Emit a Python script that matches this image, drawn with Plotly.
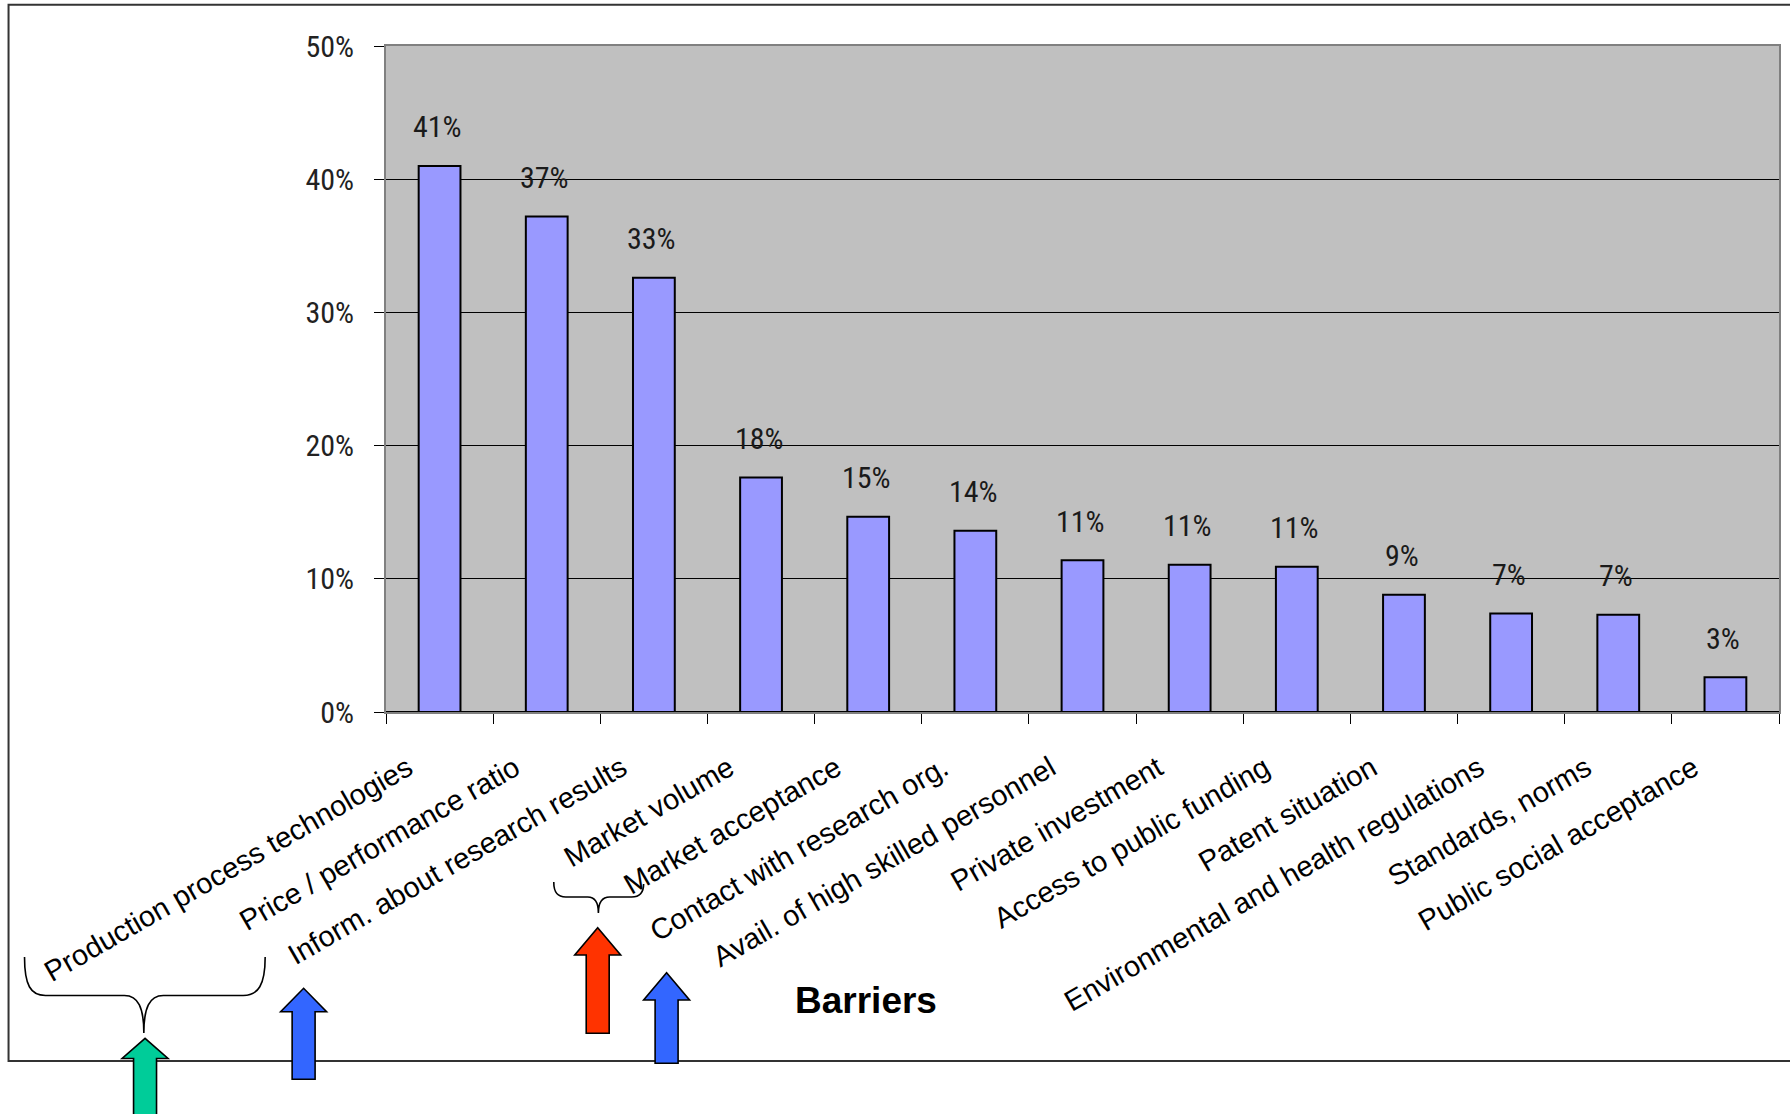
import plotly.graph_objects as go

# ---------------- data ----------------
categories = [
    "Production process technologies",
    "Price / performance ratio",
    "Inform. about research results",
    "Market volume",
    "Market acceptance",
    "Contact with research org.",
    "Avail. of high skilled personnel",
    "Private investment",
    "Access to public funding",
    "Patent situation",
    "Environmental and health regulations",
    "Standards, norms",
    "Public social acceptance",
]
values = [41.0, 37.2, 32.6, 17.6, 14.65, 13.6, 11.4, 11.05, 10.9, 8.8, 7.4, 7.3, 2.6]
value_labels = ["41%", "37%", "33%", "18%", "15%", "14%", "11%", "11%", "11%", "9%", "7%", "7%", "3%"]
y_ticks = [0, 10, 20, 30, 40, 50]
y_tick_labels = ["0%", "10%", "20%", "30%", "40%", "50%"]
axis_title = "Barriers"

# ---------------- layout geometry (page pixels) ----------------
W, H = 1790, 1114
L, R, T, B = 386, 1781, 46, 712

def px(x):
    return (x - L) / (R - L)

def py(y):
    return (B - y) / (B - T)

NARROW = "Liberation Sans Narrow, Arial Narrow, Roboto Condensed, DejaVu Sans Condensed, sans-serif"
ARIAL = "Liberation Sans, Arial, sans-serif"

fig = go.Figure()
fig.add_trace(go.Bar(
    x=categories, y=values,
    marker=dict(color="#9999FF", line=dict(color="black", width=2)),
    width=0.39,
    hoverinfo="skip",
))

annotations = []
for c, v, t in zip(categories, values, value_labels):
    annotations.append(dict(
        x=c, y=v, xref="x", yref="y", text=t, showarrow=False,
        yanchor="middle", yshift=39, xshift=-2,
        font=dict(family=NARROW, size=30, color="#1a1a1a"),
    ))

annotations.append(dict(
    x=px(794), y=py(1000), xref="paper", yref="paper", text="<b>%s</b>" % axis_title,
    showarrow=False, xanchor="left", yanchor="middle",
    font=dict(family=ARIAL, size=37, color="black"),
))

shapes = []
# outer frame
shapes.append(dict(type="rect", xref="paper", yref="paper",
                   x0=px(8), x1=px(1800), y0=py(4.7), y1=py(1061),
                   line=dict(color="#333333", width=2), fillcolor="rgba(0,0,0,0)", layer="above"))

def path(cmds):
    out = []
    for c in cmds:
        if isinstance(c, str):
            out.append(c)
        else:
            out.append("%.5f,%.5f" % (px(c[0]), py(c[1])))
    return " ".join(out)

# braces
big_brace = path(["M", (24, 957), "C", (24, 985), (30, 995.5), (45, 995.5),
                  "L", (124, 995.5), "C", (138, 995.5), (143.5, 1008), (143.5, 1033),
                  "C", (143.5, 1008), (149, 995.5), (163, 995.5),
                  "L", (243, 995.5), "C", (258, 995.5), (265, 985), (265, 957)])
small_brace = path(["M", (554, 882), "C", (554, 893), (558, 897), (566, 897),
                    "L", (588, 897), "C", (595, 897), (598.7, 903), (598.7, 913),
                    "C", (598.7, 903), (602, 897), (610, 897),
                    "L", (632, 897), "C", (640, 897), (644, 893), (644, 884)])
for p in (big_brace, small_brace):
    shapes.append(dict(type="path", xref="paper", yref="paper", path=p,
                       line=dict(color="black", width=1.6), layer="above"))

# block arrows: (tip_x, tip_y, head_half, head_base_y, shaft_half, bottom_y, color)
arrows = [
    (144.7, 1038.3, 23.0, 1058.5, 11.5, 1125, "#00CC99"),
    (303.5, 988.3, 23.0, 1011.7, 11.5, 1079.3, "#3366FF"),
    (598.0, 927.7, 23.0, 955.0, 11.5, 1033.3, "#FF3300"),
    (667.0, 972.7, 23.0, 1000.0, 11.5, 1063.3, "#3366FF"),
]
for tx, ty, hh, hb, sh, by, col in arrows:
    p = path(["M", (tx - sh, by), "L", (tx - sh, hb), "L", (tx - hh, hb), "L", (tx, ty),
              "L", (tx + hh, hb), "L", (tx + sh, hb), "L", (tx + sh, by), "Z"])
    shapes.append(dict(type="path", xref="paper", yref="paper", path=p,
                       fillcolor=col, line=dict(color="black", width=1.6), layer="above"))

fig.update_layout(
    width=W, height=H,
    margin=dict(l=L, r=W - R, t=T, b=H - B, pad=0),
    paper_bgcolor="white", plot_bgcolor="#C0C0C0",
    showlegend=False,
    bargap=0.61,
    annotations=annotations,
    shapes=shapes,
    xaxis=dict(
        type="category", showgrid=False,
        showline=True, linecolor="#808080", linewidth=2, mirror=True,
        ticks="outside", tickson="boundaries", ticklen=10, tickcolor="black", tickwidth=1.2,
        tickangle=-30, ticklabelshift=-32, ticklabelstandoff=26,
        tickfont=dict(family=ARIAL, size=29, color="black"),
        fixedrange=True,
    ),
    yaxis=dict(
        range=[0, 50], tickmode="array", tickvals=y_ticks, ticktext=y_tick_labels,
        showline=True, linecolor="#808080", linewidth=2, mirror=True,
        showgrid=True, gridcolor="black", gridwidth=1,
        zeroline=True, zerolinecolor="black", zerolinewidth=1.6,
        ticks="outside", ticklen=10, tickcolor="black", tickwidth=1.2,
        ticklabelstandoff=14,
        tickfont=dict(family=NARROW, size=30, color="#222"),
        fixedrange=True,
    ),
)

fig.write_html("out.html", config={"displayModeBar": False},
               post_script="document.body.style.margin='0';document.body.style.overflow='hidden';")
